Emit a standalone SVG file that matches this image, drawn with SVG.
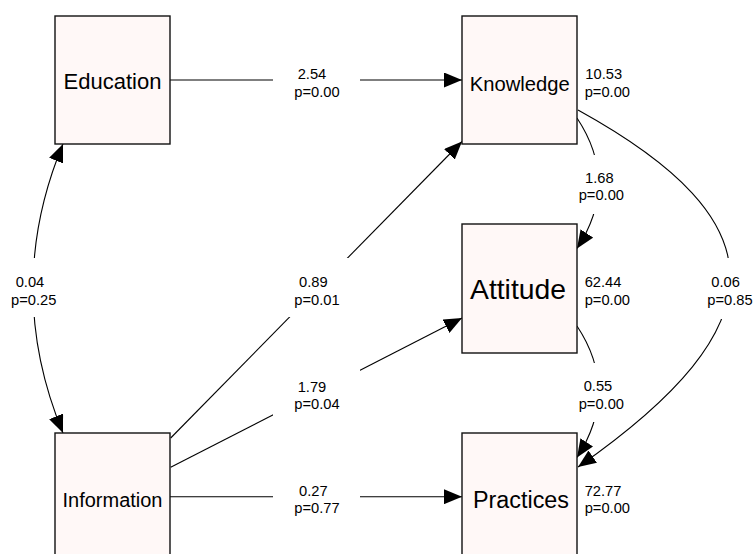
<svg xmlns="http://www.w3.org/2000/svg" width="753" height="554" viewBox="0 0 753 554">
<style>
.box{fill:#FFF8F7;stroke:#111;stroke-width:1.4}
.nt{font-family:"Liberation Sans",Arial,sans-serif;fill:#000;text-anchor:middle}
.el{font-family:"Liberation Sans",Arial,sans-serif;font-size:14.7px;fill:#000}
.cn{fill:none;stroke:#000;stroke-width:1.1}
</style>
<defs>
<marker id="ah" viewBox="0 0 18 15" markerWidth="18" markerHeight="15" refX="18" refY="7.5" orient="auto-start-reverse" markerUnits="userSpaceOnUse">
<path d="M0,0 L18,7.5 L0,15 z" fill="#000"/>
</marker>
<mask id="gaps" maskUnits="userSpaceOnUse" x="0" y="0" width="753" height="554">
<rect x="0" y="0" width="753" height="554" fill="#fff"/>
<rect x="273" y="52" width="87" height="59" fill="#000"/>
<rect x="273" y="258" width="87" height="59" fill="#000"/>
<rect x="273" y="368" width="87" height="59" fill="#000"/>
<rect x="273" y="470" width="87" height="59" fill="#000"/>
<rect x="0" y="258" width="75" height="59" fill="#000"/>
<rect x="560" y="155" width="68" height="59" fill="#000"/>
<rect x="560" y="363" width="68" height="59" fill="#000"/>
<rect x="690" y="258" width="63" height="61" fill="#000"/>
</mask>
</defs>
<rect width="753" height="554" fill="#fff"/>
<g id="connectors" mask="url(#gaps)">
<path class="cn" d="M170,80 L462,80" marker-end="url(#ah)"/>
<path class="cn" d="M170,496.7 L462,496.7" marker-end="url(#ah)"/>
<path class="cn" d="M170.7,438 L462,141.5" marker-end="url(#ah)"/>
<path class="cn" d="M170.7,467.3 L462,318" marker-end="url(#ah)"/>
<path class="cn" d="M63,144 Q3,288 63,433" marker-start="url(#ah)" marker-end="url(#ah)"/>
<path class="cn" d="M577,118 Q620,183 577,248.5" marker-end="url(#ah)"/>
<path class="cn" d="M577,326 Q620,391 577,457.5" marker-end="url(#ah)"/>
<path class="cn" d="M578,110 C781,222 781,325 578,467" marker-end="url(#ah)"/>
</g>
<g id="node-education">
<rect class="box" x="55" y="16" width="115" height="128"/>
<text class="nt" x="112.5" y="89.3" font-size="22" textLength="98" lengthAdjust="spacingAndGlyphs">Education</text>
</g>
<g id="node-knowledge">
<rect class="box" x="462" y="16" width="115" height="128"/>
<text class="nt" x="519.8" y="90.5" font-size="20.2" textLength="100" lengthAdjust="spacingAndGlyphs">Knowledge</text>
<text class="el" x="585.3" y="79.3">10.53</text>
<text class="el" x="584.7" y="96.7">p=0.00</text>
</g>
<g id="node-attitude">
<rect class="box" x="462" y="224" width="115" height="129"/>
<text class="nt" x="518" y="299.3" font-size="28.3" textLength="96" lengthAdjust="spacingAndGlyphs">Attitude</text>
<text class="el" x="584.7" y="287.3">62.44</text>
<text class="el" x="584.7" y="304.7">p=0.00</text>
</g>
<g id="node-information">
<rect class="box" x="55" y="433" width="115" height="128"/>
<text class="nt" x="112.5" y="506.7" font-size="20" textLength="100" lengthAdjust="spacingAndGlyphs">Information</text>
</g>
<g id="node-practices">
<rect class="box" x="462" y="433" width="115" height="128"/>
<text class="nt" x="521" y="508.3" font-size="23.3" textLength="96" lengthAdjust="spacingAndGlyphs">Practices</text>
<text class="el" x="584.7" y="495.7">72.77</text>
<text class="el" x="584.7" y="513">p=0.00</text>
</g>
<g id="edge-labels">
<text class="el" x="297.7" y="79.3">2.54</text>
<text class="el" x="294.3" y="96.7">p=0.00</text>
<text class="el" x="299" y="287.3">0.89</text>
<text class="el" x="294.3" y="304.7">p=0.01</text>
<text class="el" x="297.7" y="392.3">1.79</text>
<text class="el" x="294.3" y="409">p=0.04</text>
<text class="el" x="299" y="495.7">0.27</text>
<text class="el" x="294.3" y="513">p=0.77</text>
<text class="el" x="15.7" y="287.3">0.04</text>
<text class="el" x="11" y="304.7">p=0.25</text>
<text class="el" x="585" y="182.7">1.68</text>
<text class="el" x="578.7" y="200">p=0.00</text>
<text class="el" x="583.7" y="391.3">0.55</text>
<text class="el" x="578.7" y="409">p=0.00</text>
<text class="el" x="711.3" y="287.3">0.06</text>
<text class="el" x="707.3" y="304.7">p=0.85</text>
</g>
</svg>
